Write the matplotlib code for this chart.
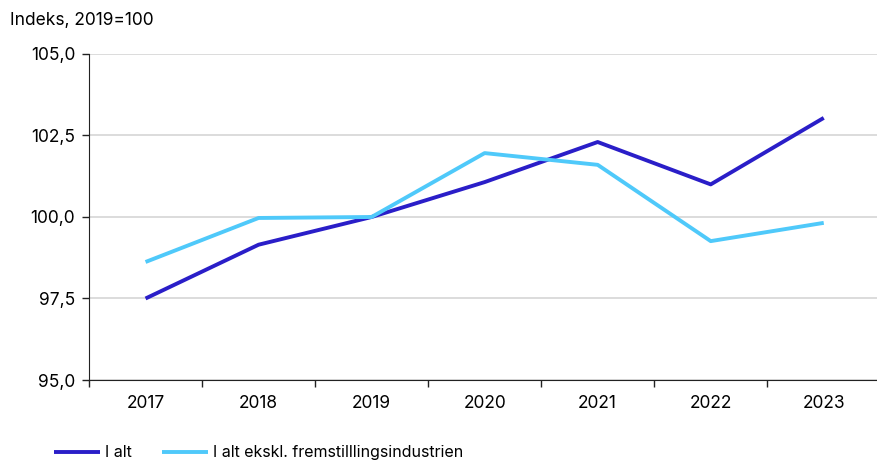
import matplotlib.pyplot as plt
import numpy as np
from matplotlib.ticker import FuncFormatter

plt.rcParams['font.family'] = ['Inter', 'DejaVu Sans']

years = ['2017', '2018', '2019', '2020', '2021', '2022', '2023']
i_alt = [97.5, 99.15, 100.0, 101.07, 102.3, 101.0, 103.04]
ekskl = [98.62, 99.97, 100.0, 101.96, 101.6, 99.26, 99.82]

dark_blue = '#2a1ec8'
light_blue = '#4fc9fa'

fig = plt.figure(figsize=(8.78, 4.61), dpi=100)
ax = fig.add_axes([0.1014, 0.1757, 0.8986, 0.7072])

x = np.arange(len(years))
ax.plot(x, i_alt, color=dark_blue, lw=2.8, label='I alt', solid_capstyle='butt')
ax.plot(x, ekskl, color=light_blue, lw=2.8, label='I alt ekskl. fremstilllingsindustrien',
        solid_capstyle='butt')

ax.set_ylim(95, 105)
ax.set_yticks([95, 97.5, 100, 102.5, 105])
ax.yaxis.set_major_formatter(FuncFormatter(lambda v, p: f'{v:.1f}'.replace('.', ',')))
ax.grid(axis='y', color='#d9d9d9', lw=1.3)
ax.set_axisbelow(True)

ax.set_xlim(-0.5, len(years) - 0.52)
ax.set_xticks(np.arange(-0.5, len(years) - 0.5, 1.0))
ax.set_xticklabels([])
ax.set_xticks(x, minor=True)
ax.set_xticklabels(years, minor=True)
ax.tick_params(axis='x', which='minor', length=0, pad=11, labelsize=12.5)
ax.tick_params(axis='x', which='major', length=5, width=1, color='#222222')
ax.tick_params(axis='y', length=5, width=1, color='#222222', labelsize=12.5, pad=5)

for s in ['top', 'right']:
    ax.spines[s].set_visible(False)
ax.spines['left'].set_color('#222222')
ax.spines['bottom'].set_color('#222222')

fig.text(0.011, 0.955, 'Indeks, 2019=100', fontsize=12.5, va='center', ha='left')

fig.legend(loc='lower left', bbox_to_anchor=(0.045, -0.03), ncol=2, frameon=False,
           fontsize=11.5, handlelength=2.9, handletextpad=0.3, columnspacing=1.9)

fig.savefig('out.png', dpi=100)
